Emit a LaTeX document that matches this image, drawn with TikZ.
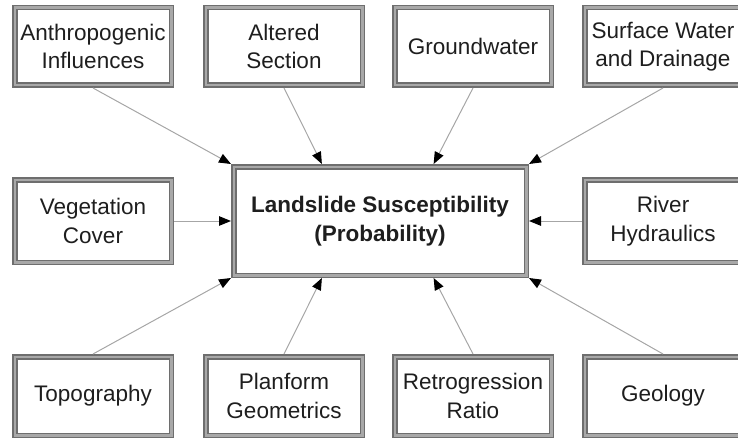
\documentclass[tikz,border=0pt]{standalone}
\usepackage{fontspec}
\setmainfont{Liberation Sans}
\usetikzlibrary{arrows.meta,calc}
\definecolor{frameouter}{HTML}{6E6E6E}
\definecolor{framemid}{HTML}{A8A8A8}
\definecolor{linkgray}{HTML}{A6A6A6}
\definecolor{inkgray}{HTML}{1E1E1E}
\begin{document}
\begin{tikzpicture}[x=1pt,y=-1pt,
  framed/.style={draw=frameouter, line width=1.5pt, double=framemid,
    double distance=2.5pt, fill=white, inner sep=0pt, outer sep=2.75pt,
    align=center, text=inkgray,
    font=\fontsize{22.5}{28.5}\selectfont},
  factor/.style={framed, minimum width=156.5pt},
  hub/.style={framed, minimum width=292.5pt, minimum height=108.5pt,
    font=\fontsize{22.5}{29}\selectfont\bfseries},
  link/.style={draw=linkgray, line width=1pt,
    -{Triangle[length=12pt,width=9.5pt,color=black]}}]
  \useasboundingbox (0,0) rectangle (738,441);

  % central node
  \node[hub] (c) at (380,221) {Landslide Susceptibility\\(Probability)};

  % top row
  \node[factor, minimum height=77.5pt] (anth) at (93,46.5) {Anthropogenic\\Influences};
  \node[factor, minimum height=77.5pt] (alt)  at (284,46.5) {Altered\\Section};
  \node[factor, minimum height=77.5pt] (gw)   at (473,46.5) {Groundwater};
  \node[factor, minimum height=77.5pt] (sw)   at (663,46.5) {Surface Water\\and Drainage};

  % middle row
  \node[factor, minimum height=82.5pt] (veg) at (93,221) {Vegetation\\Cover};
  \node[factor, minimum height=82.5pt] (riv) at (663,221) {River\\Hydraulics};

  % bottom row
  \node[factor, minimum height=78.5pt] (topo) at (93,396) {Topography};
  \node[factor, minimum height=78.5pt] (plan) at (284,396) {Planform\\Geometrics};
  \node[factor, minimum height=78.5pt] (retr) at (473,396) {Retrogression\\Ratio};
  \node[factor, minimum height=78.5pt] (geo)  at (663,396) {Geology};

  % attachment points on the central node
  \coordinate (nA) at ($(c.north west)!0.305!(c.north east)$);
  \coordinate (nB) at ($(c.north west)!0.68!(c.north east)$);
  \coordinate (sA) at ($(c.south west)!0.305!(c.south east)$);
  \coordinate (sB) at ($(c.south west)!0.68!(c.south east)$);

  % connectors
  \draw[link] (anth.south) -- (c.north west);
  \draw[link] (alt.south)  -- (nA);
  \draw[link] (gw.south)   -- (nB);
  \draw[link] (sw.south)   -- (c.north east);
  \draw[link] (veg.east)   -- (c.west);
  \draw[link] (riv.west)   -- (c.east);
  \draw[link] (topo.north) -- (c.south west);
  \draw[link] (plan.north) -- (sA);
  \draw[link] (retr.north) -- (sB);
  \draw[link] (geo.north)  -- (c.south east);
\end{tikzpicture}
\end{document}
